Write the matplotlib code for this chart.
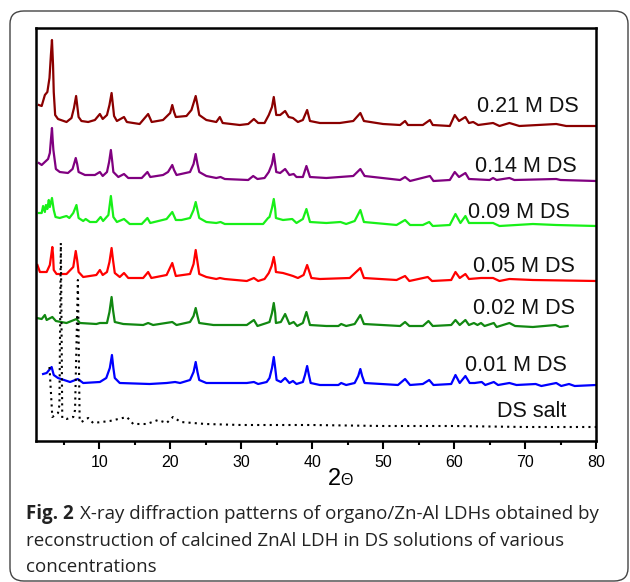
import matplotlib
matplotlib.use("Agg")
import matplotlib.pyplot as plt
from matplotlib.patches import FancyBboxPatch

# ---- data: (2-theta, intensity offset) vertices ----
tr_021 = [(1.5,335),(1.9,334),(2.35,345),(2.7,348),(3.0,362),(3.2,385),(3.35,400),(3.5,375),(3.6,348),(3.8,325),(4.2,321),(5.4,318),(6.1,322),(6.45,332),(6.75,344),(6.95,332),(7.1,323),(7.5,319),(8.45,318),(9.4,320),(10.1,326),(10.5,321),(11.1,325),(11.45,335),(11.75,347),(11.95,334),(12.1,324),(12.5,319),(13.5,323),(13.9,318),(15.7,316),(16.9,326),(17.4,318),(19.0,320),(20.0,327),(20.3,335),(20.55,328),(20.8,323),(22.3,324),(23.0,330),(23.35,338),(23.6,344),(23.85,335),(24.1,325),(25.1,320),(26.5,318),(27.0,323),(27.4,317),(29.8,315),(31.0,316),(31.8,321),(32.4,317),(33.3,317),(33.9,325),(34.35,333),(34.6,343),(34.8,333),(34.95,325),(35.5,325),(36.2,329),(36.7,323),(37.3,322),(38.0,318),(38.7,320),(39.3,330),(39.7,319),(41.1,317),(43.9,317),(45.8,319),(46.8,327),(47.3,319),(50.0,316),(52.4,315),(53.1,319),(53.5,315),(55.6,315),(56.6,320),(57.0,315),(59.4,314),(60.1,325),(60.7,319),(61.6,323),(62.1,317),(62.7,318),(63.4,315),(65.5,317),(66.4,314),(67.8,317),(69.2,314),(74.4,316),(75.8,314),(80.0,314)]
tr_014 = [(1.5,277),(1.9,275),(2.35,278),(2.8,281),(3.05,287),(3.2,300),(3.35,312),(3.45,300),(3.55,290),(3.9,271),(4.45,268),(5.6,267),(6.25,271),(6.5,277),(6.7,282),(6.9,276),(7.1,268),(8.0,265),(9.4,265),(10.1,268),(10.5,264),(11.1,268),(11.4,278),(11.65,290),(11.85,278),(12.0,268),(12.7,263),(13.5,266),(14.1,262),(16.0,262),(16.8,268),(17.2,263),(19.0,265),(19.7,268),(20.3,275),(20.55,270),(20.9,265),(22.8,268),(23.3,276),(23.6,286),(23.85,276),(24.1,268),(25.1,264),(26.5,262),(27.1,263),(27.7,261),(31.0,260),(31.7,264),(32.3,261),(33.3,262),(33.9,268),(34.35,276),(34.6,286),(34.8,276),(34.95,268),(35.5,267),(36.2,271),(36.8,265),(37.4,266),(37.8,263),(38.7,263),(39.2,274),(39.7,263),(42.0,262),(45.8,264),(46.8,271),(47.4,264),(52.4,260),(53.1,263),(53.8,259),(56.6,264),(57.1,259),(59.4,260),(60.1,268),(60.7,263),(61.6,267),(62.1,261),(65.0,260),(65.5,262),(66.0,260),(67.8,262),(68.5,260),(74.4,261),(75.0,260),(80.0,259)]
tr_009 = [(1.5,227),(1.9,227),(2.1,234),(2.35,228),(2.5,235),(2.7,231),(2.9,240),(3.05,233),(3.35,242),(3.6,230),(3.85,223),(4.45,222),(4.9,223),(5.4,224),(5.8,222),(6.35,227),(6.8,235),(7.1,222),(7.75,219),(8.1,221),(8.7,218),(9.6,218),(10.2,223),(10.55,219),(11.3,225),(11.65,244),(11.85,232),(12.0,223),(12.5,218),(13.5,221),(14.3,216),(16.0,216),(16.8,222),(17.2,217),(19.5,221),(20.3,228),(20.8,220),(21.6,220),(22.8,222),(23.3,230),(23.6,238),(23.85,230),(24.1,222),(25.1,218),(26.5,217),(27.1,218),(27.7,216),(33.1,216),(33.8,222),(34.0,223),(34.35,232),(34.6,241),(34.8,231),(34.9,222),(35.9,220),(37.2,221),(37.8,217),(38.7,221),(39.2,231),(39.7,218),(42.0,217),(44.0,218),(44.8,216),(46.0,219),(46.8,230),(47.3,218),(51.9,215),(53.1,220),(53.8,215),(55.6,215),(56.5,218),(57.0,214),(59.4,215),(60.2,226),(60.9,217),(61.6,224),(62.1,217),(63.6,217),(65.5,217),(66.4,214),(71.1,216),(74.4,215),(80.0,214)]
tr_005 = [(1.3,175),(1.65,168),(2.6,168),(3.05,175),(3.25,185),(3.4,193),(3.5,185),(3.6,170),(4.0,166),(5.4,166),(6.35,173),(6.7,189),(6.9,180),(7.1,168),(7.75,163),(9.6,165),(10.1,170),(10.5,165),(11.1,168),(11.45,178),(11.75,192),(11.95,180),(12.2,167),(12.9,163),(13.5,167),(14.1,162),(16.2,162),(16.9,168),(17.35,162),(19.5,165),(20.3,177),(20.8,164),(22.8,166),(23.3,176),(23.6,190),(23.85,178),(24.1,166),(25.1,163),(26.5,161),(27.0,162),(27.7,161),(30.8,159),(31.8,162),(32.4,159),(33.3,161),(33.9,167),(34.3,174),(34.6,183),(34.8,175),(34.9,168),(35.9,167),(36.85,165),(37.3,164),(38.0,162),(38.8,165),(39.3,175),(39.9,162),(41.1,161),(45.3,162),(46.8,172),(47.3,162),(51.9,160),(53.1,164),(53.7,159),(56.3,163),(56.9,159),(59.6,160),(60.2,168),(60.8,162),(61.6,166),(62.1,161),(63.8,162),(65.5,162),(66.4,159),(67.8,161),(71.1,160),(80.0,159)]
tr_002 = [(1.2,122),(1.9,121),(2.35,125),(2.6,120),(3.4,123),(3.9,119),(5.4,117),(6.8,121),(7.3,117),(9.6,116),(10.1,117),(11.1,117),(11.45,128),(11.75,143),(11.95,130),(12.2,118),(13.4,116),(16.2,115),(16.9,117),(17.6,115),(20.3,118),(20.9,115),(22.8,118),(23.3,124),(23.6,132),(23.85,124),(24.1,117),(26.1,115),(30.8,115),(31.8,120),(32.3,114),(33.6,117),(34.0,118),(34.35,127),(34.6,137),(34.8,127),(34.9,117),(35.6,118),(36.2,126),(36.8,116),(37.4,118),(37.9,114),(38.7,117),(39.2,128),(39.7,115),(42.0,114),(43.7,114),(44.1,116),(44.8,114),(46.0,116),(46.8,125),(47.3,116),(52.4,114),(53.1,118),(53.7,114),(55.6,114),(56.4,119),(57.0,114),(59.6,115),(60.2,120),(60.8,115),(61.6,120),(62.1,115),(62.8,117),(63.3,115),(63.8,117),(64.3,114),(65.6,117),(66.0,113),(67.8,117),(68.6,114),(71.1,113),(74.3,115),(74.9,113),(76.0,114)]
tr_001 = [(2.1,66),(2.6,67),(2.95,70),(3.3,73),(3.6,65),(4.2,62),(5.9,58),(7.0,61),(7.75,57),(10.1,58),(11.0,62),(11.5,72),(11.8,85),(12.0,72),(12.2,62),(12.9,57),(17.1,56),(19.5,57),(20.7,58),(21.4,57),(22.8,60),(23.3,68),(23.6,78),(23.85,68),(24.1,60),(25.1,57),(30.8,57),(31.8,58),(32.4,56),(33.6,58),(34.0,62),(34.35,72),(34.6,83),(34.8,72),(35.0,60),(35.6,58),(36.2,62),(36.8,57),(37.3,59),(37.8,56),(38.7,58),(39.0,65),(39.3,74),(39.55,65),(39.8,57),(41.1,55),(43.7,55),(44.1,57),(44.8,55),(46.0,57),(46.5,64),(46.8,71),(47.05,64),(47.4,57),(52.1,55),(53.1,61),(53.8,55),(55.6,56),(56.5,60),(57.1,55),(59.6,56),(60.2,65),(60.8,57),(61.6,64),(62.2,57),(62.9,57),(63.9,58),(64.4,55),(65.6,58),(66.2,55),(67.8,57),(68.8,55),(71.5,56),(72.3,54),(74.4,57),(75.1,54),(76.2,56),(77.0,54),(80.0,55)]
tr_salt = [(3.0,73),(3.4,23),(4.2,27),(4.4,35),(4.6,197),(4.8,22),(5.4,21),(6.35,23),(6.6,30),(7.0,160),(7.25,20),(7.5,18),(8.45,22),(9.15,17),(11.5,19),(13.9,23),(14.8,16),(16.7,16),(18.3,20),(19.5,17),(20.4,23),(21.5,18),(25.0,16),(30.0,15),(40.0,15),(50.0,14),(60.0,14),(70.0,13),(80.0,13)]

series_labels = ["0.21 M DS", "0.14 M DS", "0.09 M DS", "0.05 M DS", "0.02 M DS", "0.01 M DS", "DS salt"]
series_data = [tr_021, tr_014, tr_009, tr_005, tr_002, tr_001, tr_salt]
series_colors = ["#8b0000", "#800080", "#18f018", "#ff0000", "#118811", "#0000ff", "black"]
label_pos = [(63.3, 328.3), (62.9, 268.3), (61.9, 221.7), (62.6, 168.3), (62.6, 125.7), (61.5, 69.0), (66.0, 23.3)]
xticks_major = [10, 20, 30, 40, 50, 60, 70, 80]
xticks_minor = [5, 15, 25, 35, 45, 55, 65, 75]
caption_lines = ["X-ray diffraction patterns of organo/Zn-Al LDHs obtained by",
                 "reconstruction of calcined ZnAl LDH in DS solutions of various",
                 "concentrations"]

W, H = 630, 582
fig = plt.figure(figsize=(W / 100, H / 100), dpi=100)
plt.rcParams['font.family'] = ['Liberation Sans', 'DejaVu Sans']

def fx(px):
    return px / W

def fy(py):
    return 1 - py / H

# rounded frame around the figure
frame = FancyBboxPatch((fx(10), fy(581)), fx(628) - fx(10), fy(11) - fy(581),
                       boxstyle="round,pad=0,rounding_size=0.022",
                       transform=fig.transFigure, fill=False,
                       edgecolor="#444444", linewidth=1.0)
fig.patches.append(frame)

ax = fig.add_axes([fx(36), fy(441), fx(596) - fx(36), fy(28) - fy(441)])
for i, (pts, col) in enumerate(zip(series_data, series_colors)):
    xs = [p[0] for p in pts]
    ys = [p[1] for p in pts]
    if series_labels[i] == "DS salt":
        ax.plot(xs, ys, color=col, lw=1.5, linestyle=(0, (1, 2)))
    else:
        ax.plot(xs, ys, color=col, lw=1.6, solid_joinstyle='round')
for lab, (lx, ly) in zip(series_labels, label_pos):
    ax.text(lx, ly, lab, fontsize=15.5, ha='left', va='baseline', color='#111111')

ax.set_xlim(1.1, 80)
ax.set_ylim(-1, 412)
ax.set_xticks(xticks_major)
ax.set_xticks(xticks_minor, minor=True)
ax.set_yticks([])
ax.tick_params(axis='x', which='major', direction='out', length=6, width=1.5,
               labelsize=11.5, pad=4)
ax.tick_params(axis='x', which='minor', direction='out', length=3, width=1.5)
for s in ax.spines.values():
    s.set_linewidth(1.8)

# x-axis label "2Θ"
fig.text(fx(328), fy(485), "2", fontsize=17, ha='left', va='baseline')
fig.text(fx(340), fy(485), "Θ", fontsize=11.5, ha='left', va='baseline')

# caption
cap_font = ['Open Sans', 'DejaVu Sans']
cap_size = 13.5
fig.text(fx(26), fy(519), "Fig. 2", fontsize=cap_size, fontweight='bold', family=cap_font,
         ha='left', va='baseline', color='#222222')
fig.text(fx(80), fy(519), caption_lines[0],
         fontsize=cap_size, family=cap_font, ha='left', va='baseline', color='#222222')
fig.text(fx(26), fy(545.5), caption_lines[1],
         fontsize=cap_size, family=cap_font, ha='left', va='baseline', color='#222222')
fig.text(fx(26), fy(572), caption_lines[2],
         fontsize=cap_size, family=cap_font, ha='left', va='baseline', color='#222222')

fig.savefig("out.png", dpi=100)
